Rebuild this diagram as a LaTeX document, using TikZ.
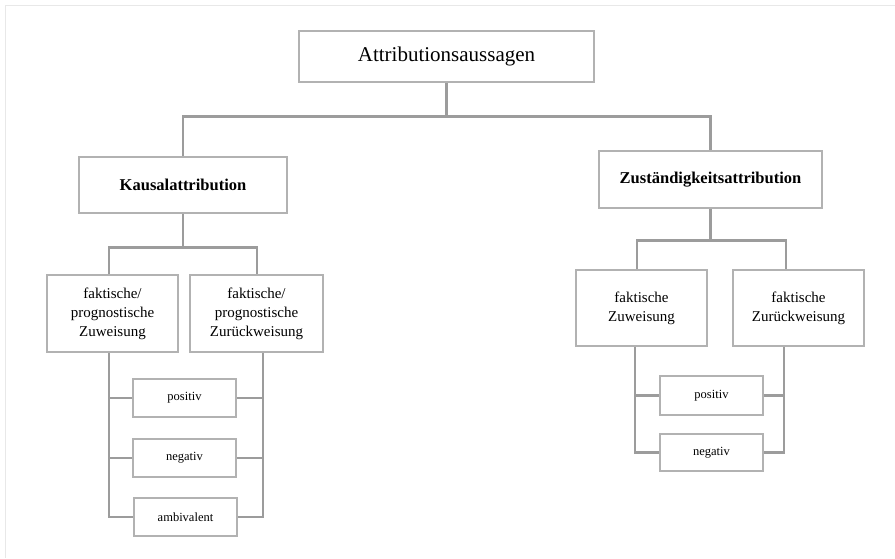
\documentclass[tikz,border=0pt]{standalone}
\usepackage{fontspec}
\setmainfont{Liberation Serif}
\definecolor{boxgray}{HTML}{B2B2B2}
\definecolor{linegray}{HTML}{9C9C9C}
\definecolor{framegray}{HTML}{E8E8E8}
\begin{document}
\begin{tikzpicture}[x=1pt,y=-1pt,
  box/.style={draw=boxgray, line width=1.1pt, fill=white, inner sep=0pt, align=center, text=black},
  bigbox/.style={box, font=\fontsize{15}{19}\selectfont},
  smallbox/.style={box, minimum width=103pt, minimum height=38pt, font=\fontsize{12.5}{15}\selectfont},
  conn/.style={draw=linegray, line width=2.6pt},
]
\useasboundingbox (0,0) rectangle (895,558);
\draw[framegray, line width=1.8pt] (5.5,558) -- (5.5,5.5) -- (895,5.5);

% nodes
\node[box, minimum width=295pt, minimum height=51pt, font=\fontsize{21}{25}\selectfont] (top) at (446.5,56.5) {Attributionsaussagen};
\node[box, minimum width=208pt, minimum height=56pt, font=\fontsize{16.5}{20}\selectfont\bfseries] (kausal) at (183,185) {Kausalattribution};
\node[box, minimum width=223pt, minimum height=57pt, font=\fontsize{16.5}{20}\selectfont\bfseries] (zust) at (710.5,179.5) {Zuständigkeitsattribution};

\node[bigbox, minimum width=131pt, minimum height=77pt] (kz) at (112.5,313.5) {faktische/\\prognostische\\Zuweisung};
\node[bigbox, minimum width=133pt, minimum height=77pt] (kr) at (256.5,313.5) {faktische/\\prognostische\\Zurückweisung};
\node[bigbox, minimum width=131pt, minimum height=76pt] (zz) at (641.5,308) {faktische\\Zuweisung};
\node[bigbox, minimum width=131pt, minimum height=76pt] (zr) at (798.5,308) {faktische\\Zurückweisung};

\node[smallbox] (kpos) at (184.5,398) {positiv};
\node[smallbox] (kneg) at (184.5,458) {negativ};
\node[smallbox] (kamb) at (185.5,517) {ambivalent};
\node[smallbox, minimum height=39pt] (zpos) at (711.5,395.5) {positiv};
\node[smallbox, minimum height=37pt] (zneg) at (711.5,452.5) {negativ};

% top level connectors
\draw[conn] (top.south) -- ++(0,34) coordinate (th);
\draw[conn] (kausal.north) |- (th) -| (zust.north);

% Kausal children
\draw[conn] (kausal.south) -- ++(0,34) coordinate (kh);
\draw[conn] ([xshift=-3.5pt]kz.north) |- (kh) -| ([xshift=0.5pt]kr.north);
\coordinate (kl) at ([xshift=-3.5pt]kz.south);
\coordinate (kr2) at ([xshift=6.5pt]kr.south);
\draw[conn] (kl) |- (kamb.west);
\draw[conn] (kr2) |- (kamb.east);
\draw[conn] (kpos.west) -- (kpos.west -| kl);
\draw[conn] (kneg.west) -- (kneg.west -| kl);
\draw[conn] (kpos.east) -- (kpos.east -| kr2);
\draw[conn] (kneg.east) -- (kneg.east -| kr2);

% Zust children
\draw[conn] (zust.south) -- ++(0,32) coordinate (zh);
\draw[conn] ([xshift=-4.5pt]zz.north) |- (zh) -| ([xshift=-12.5pt]zr.north);
\coordinate (zl) at ([xshift=-6.5pt]zz.south);
\coordinate (zr2) at ([xshift=-14.5pt]zr.south);
\draw[conn] (zl) |- (zneg.west);
\draw[conn] (zr2) |- (zneg.east);
\draw[conn] (zpos.west) -- (zpos.west -| zl);
\draw[conn] (zpos.east) -- (zpos.east -| zr2);
\end{tikzpicture}
\end{document}
